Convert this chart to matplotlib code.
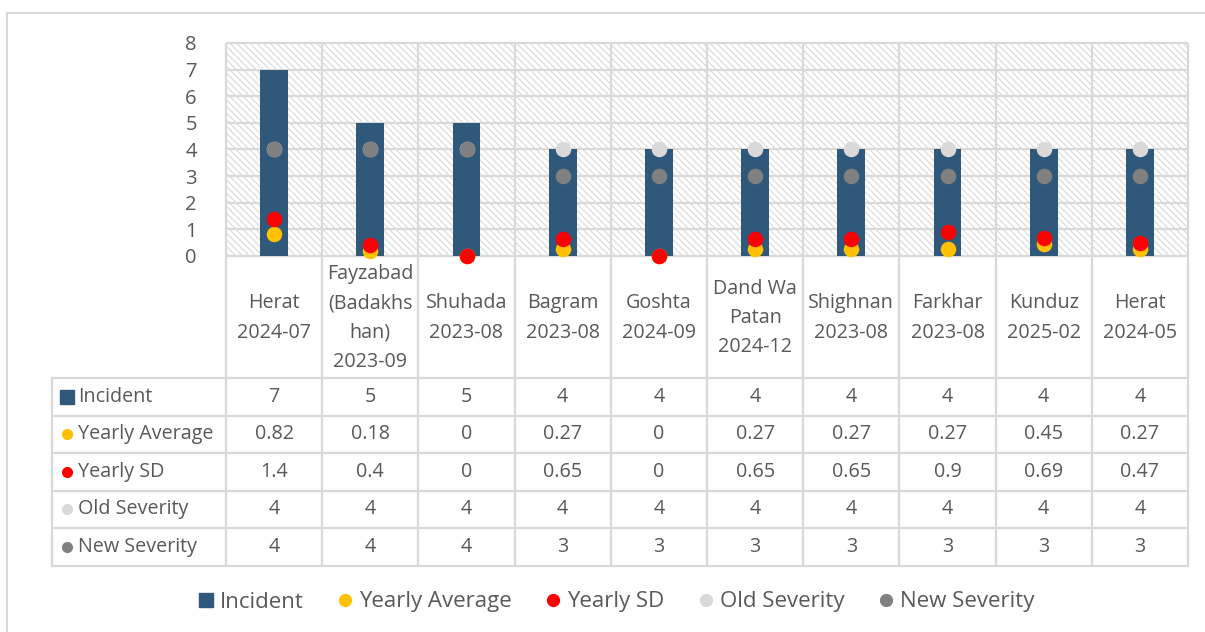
import matplotlib
matplotlib.use("Agg")
import matplotlib.pyplot as plt
from matplotlib.lines import Line2D
import numpy as np

plt.rcParams['font.family'] = ['Open Sans', 'DejaVu Sans']
plt.rcParams['hatch.linewidth'] = 0.8

# ---- data ----
categories = ["Herat\n2024-07", "Fayzabad\n(Badakhs\nhan)\n2023-09", "Shuhada\n2023-08",
              "Bagram\n2023-08", "Goshta\n2024-09", "Dand Wa\nPatan\n2024-12",
              "Shighnan\n2023-08", "Farkhar\n2023-08", "Kunduz\n2025-02", "Herat\n2024-05"]
incident = [7, 5, 5, 4, 4, 4, 4, 4, 4, 4]
yearly_avg = [0.82, 0.18, 0, 0.27, 0, 0.27, 0.27, 0.27, 0.45, 0.27]
yearly_sd = [1.4, 0.4, 0, 0.65, 0, 0.65, 0.65, 0.9, 0.69, 0.47]
old_severity = [4, 4, 4, 4, 4, 4, 4, 4, 4, 4]
new_severity = [4, 4, 4, 3, 3, 3, 3, 3, 3, 3]
y_ticks = [0, 1, 2, 3, 4, 5, 6, 7, 8]

series_names = ["Incident", "Yearly Average", "Yearly SD", "Old Severity", "New Severity"]
series_values = [incident, yearly_avg, yearly_sd, old_severity, new_severity]
series_colors = ["#30587A", "#FFC000", "#FF0000", "#D9D9D9", "#808080"]

TEXT = "#595959"
GRID = "#D9D9D9"
FS = 14.2

W, H = 1205, 632
fig = plt.figure(figsize=(W / 100, H / 100), dpi=100)

# pixel-based layout
L, R, T, B = 226, 1188, 43, 256
ax = fig.add_axes([L / W, 1 - B / H, (R - L) / W, (B - T) / H])
ax.set_xlim(-0.5, len(categories) - 0.5)
ax.set_ylim(0, 8)

# hatched plot background
ax.patch.set_facecolor("white")
ax.patch.set_hatch("\\\\\\\\\\")
ax.patch.set_edgecolor("#D9D9D9")
ax.patch.set_linewidth(0)

for s in ax.spines.values():
    s.set_visible(False)

x = np.arange(len(categories))
ax.hlines(y_ticks, -0.5, len(categories) - 0.5, color=GRID, lw=1.6, zorder=1, clip_on=False)
ax.vlines(np.arange(-0.5, len(categories), 1), 0, 8, color=GRID, lw=1.6, zorder=1, clip_on=False)

ax.bar(x, incident, width=0.29, color=series_colors[0], zorder=2)
ms = 125
for vals, col in zip(series_values[1:], series_colors[1:]):
    ax.scatter(x, vals, s=ms, color=col, zorder=3, clip_on=False, linewidths=0)

ax.set_xticks([])
ax.set_yticks(y_ticks)
ax.set_yticklabels([str(t) for t in y_ticks], fontsize=14.5, color=TEXT)
ax.tick_params(axis="y", length=0, pad=21)

# overlay in pixel coordinates for the data table and frame
ov = fig.add_axes([0, 0, 1, 1], zorder=-1)
ov.set_xlim(0, W)
ov.set_ylim(H, 0)
ov.axis("off")

col_w = (R - L) / len(categories)
col_edges = [L + k * col_w for k in range(len(categories) + 1)]
row_edges = [378, 415.5, 453, 490.5, 528, 565.5]
head_left = 52

# outer chart frame
ov.plot([7, W], [13, 13], color=GRID, lw=1.5)
ov.plot([7, 7], [13, H], color=GRID, lw=1.5)

lw_t = 1.6
for xe in col_edges:
    ov.plot([xe, xe], [B, row_edges[-1]], color=GRID, lw=lw_t, solid_capstyle="butt")
ov.plot([head_left, head_left], [row_edges[0], row_edges[-1]], color=GRID, lw=lw_t)
for ye in row_edges:
    ov.plot([head_left, R], [ye, ye], color=GRID, lw=lw_t)

# category labels
for i, c in enumerate(categories):
    ov.text(L + (i + 0.5) * col_w, (B + row_edges[0]) / 2 + 1, c, ha="center", va="center",
            fontsize=FS, color=TEXT, linespacing=1.63)

def fmt(v):
    return f"{v:g}"

for r, (name, vals, col) in enumerate(zip(series_names, series_values, series_colors)):
    yc = (row_edges[r] + row_edges[r + 1]) / 2
    if r == 0:
        ov.plot([67], [yc], marker="s", ms=9.5, color=col, ls="none")
    else:
        ov.plot([67], [yc], marker="o", ms=7, color=col, ls="none")
    ov.text(78, yc, name, ha="left", va="center", fontsize=FS, color=TEXT)
    for i, v in enumerate(vals):
        ov.text(L + (i + 0.5) * col_w, yc, fmt(v), ha="center", va="center",
                fontsize=FS, color=TEXT)

# legend
handles = [Line2D([], [], marker="s", ls="none", ms=9.5, color=series_colors[0])]
for col in series_colors[1:]:
    handles.append(Line2D([], [], marker="o", ls="none", ms=8.5, color=col))
leg = fig.legend(handles, series_names, loc="center", bbox_to_anchor=(617 / W, 1 - 602 / H),
                 ncol=5, frameon=False, fontsize=16, handlelength=0.55, handletextpad=0.35,
                 columnspacing=1.6, labelcolor=TEXT)

fig.savefig("out.png", dpi=100)
